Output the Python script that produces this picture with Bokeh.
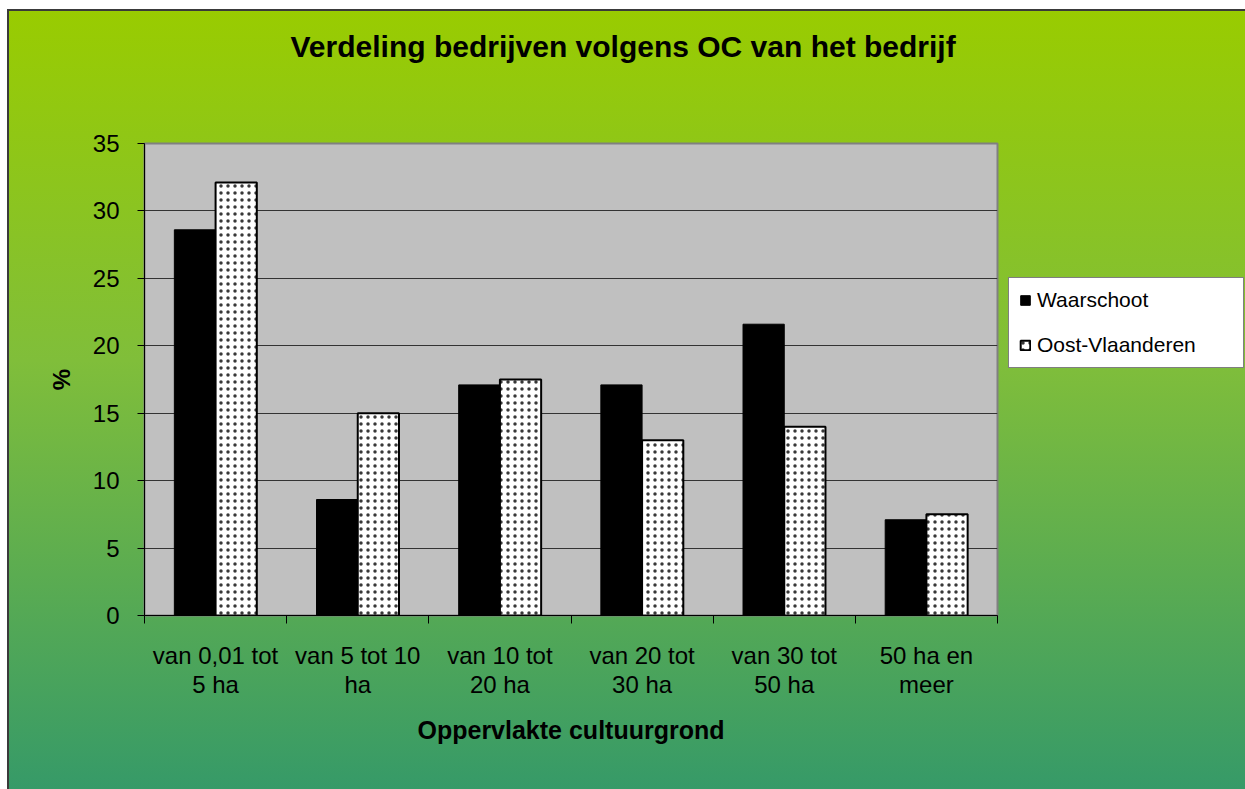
from bokeh.plotting import figure
from bokeh.models import Range1d, FixedTicker, Legend, LegendItem, ColumnDataSource, Title
from bokeh.embed import file_html
from bokeh.resources import INLINE
import numpy as np

categories = ["van 0,01 tot\n5 ha", "van 5 tot 10\nha", "van 10 tot\n20 ha",
              "van 20 tot\n30 ha", "van 30 tot\n50 ha", "50 ha en\nmeer"]
waarschoot = [28.6, 8.6, 17.1, 17.1, 21.6, 7.1]
oost_vlaanderen = [32.1, 15.0, 17.5, 13.0, 14.0, 7.5]
y_ticks = [0, 5, 10, 15, 20, 25, 30, 35]
title_text = "Verdeling bedrijven volgens OC van het bedrijf"

FONT = "Liberation Sans"
n = len(categories)
idx = np.arange(n)
bw = 0.29

p = figure(frame_width=853, frame_height=472, output_backend="svg", toolbar_location=None,
           x_range=Range1d(0, n), y_range=Range1d(0, 35), title=None,
           min_border_left=144, min_border_right=248, min_border_top=143, min_border_bottom=174)
p.width = 1245
p.height = 789
p.styles = {
    "background": ("linear-gradient(#3a3a3a, #3a3a3a) 7px 9px / 2px 100% no-repeat, "
                   "linear-gradient(#3a3a3a, #3a3a3a) 7px 9px / 100% 2px no-repeat, "
                   "linear-gradient(to bottom, #99CC00 0%, #80BE3A 45%, #369A68 100%) "
                   "7px 9px / calc(100% - 7px) calc(100% - 9px) no-repeat, white"),
}
p.border_fill_color = None
p.background_fill_color = "#C0C0C0"
p.outline_line_color = "#808080"
p.outline_line_width = 2

src = ColumnDataSource(dict(xw=idx + 0.5 - bw / 2, xo=idx + 0.5 + bw / 2,
                            w=waarschoot, o=oost_vlaanderen))
rw = p.vbar(x="xw", top="w", width=bw, source=src, fill_color="black", line_color="black", line_width=1)
ro = p.vbar(x="xo", top="o", width=bw, source=src, fill_color="white", line_color="black", line_width=2,
            hatch_pattern=".", hatch_color="#222222", hatch_scale=7, hatch_weight=0.5, hatch_alpha=0.9)

# grid
p.xgrid.visible = False
p.ygrid.ticker = FixedTicker(ticks=y_ticks)
p.ygrid.grid_line_color = "#333333"
p.ygrid.grid_line_width = 1.2

# y axis
ya = p.yaxis[0]
ya.ticker = FixedTicker(ticks=y_ticks)
ya.major_tick_out = 7
ya.major_tick_in = 0
ya.minor_tick_out = 0
ya.minor_tick_in = 0
ya.major_tick_line_color = "black"
ya.axis_line_color = "black"
ya.major_label_text_font = FONT
ya.major_label_text_font_size = "24px"
ya.major_label_text_color = "black"
ya.major_label_standoff = 18
ya.axis_label = "%"
ya.axis_label_text_font = FONT
ya.axis_label_text_font_size = "24px"
ya.axis_label_text_font_style = "bold"
ya.axis_label_text_color = "black"
ya.axis_label_standoff = 15

# x axis
xa = p.xaxis[0]
xa.ticker = FixedTicker(ticks=list(idx + 0.5), minor_ticks=list(range(n + 1)))
xa.major_label_overrides = {float(i + 0.5): c for i, c in enumerate(categories)}
xa.major_tick_out = 0
xa.major_tick_in = 0
xa.minor_tick_out = 8
xa.minor_tick_in = 0
xa.minor_tick_line_color = "black"
xa.axis_line_color = "black"
xa.major_label_text_font = FONT
xa.major_label_text_font_size = "24px"
xa.major_label_text_color = "black"
xa.major_label_text_line_height = 1.1
xa.major_label_standoff = 18
xa.axis_label = "Oppervlakte cultuurgrond"
xa.axis_label_text_font = FONT
xa.axis_label_text_font_size = "25px"
xa.axis_label_text_font_style = "bold"
xa.axis_label_text_color = "black"
xa.axis_label_standoff = 15

# title: a spacer nearest the frame, then the real title on top
spacer = Title(text=" ", text_font=FONT, text_font_size="10px", standoff=38)
p.add_layout(spacer, "above")
title = Title(text=title_text, align="left", offset=146, vertical_align="top",
              text_font=FONT, text_font_size="30px", text_font_style="bold",
              text_color="black", standoff=56)
p.add_layout(title, "above")

legend = Legend(items=[LegendItem(label="Waarschoot", renderers=[rw]),
                       LegendItem(label="Oost-Vlaanderen", renderers=[ro])],
                location=(11, 247), orientation="vertical",
                label_text_font=FONT, label_text_font_size="21px", label_text_color="black",
                glyph_width=12, glyph_height=12, label_standoff=6, padding=10, spacing=21,
                label_height=24, label_width=196,
                background_fill_color="white", background_fill_alpha=1,
                border_line_color="black", border_line_width=1)
p.add_layout(legend, "right")

open("out.html", "w").write(file_html(p, INLINE))
